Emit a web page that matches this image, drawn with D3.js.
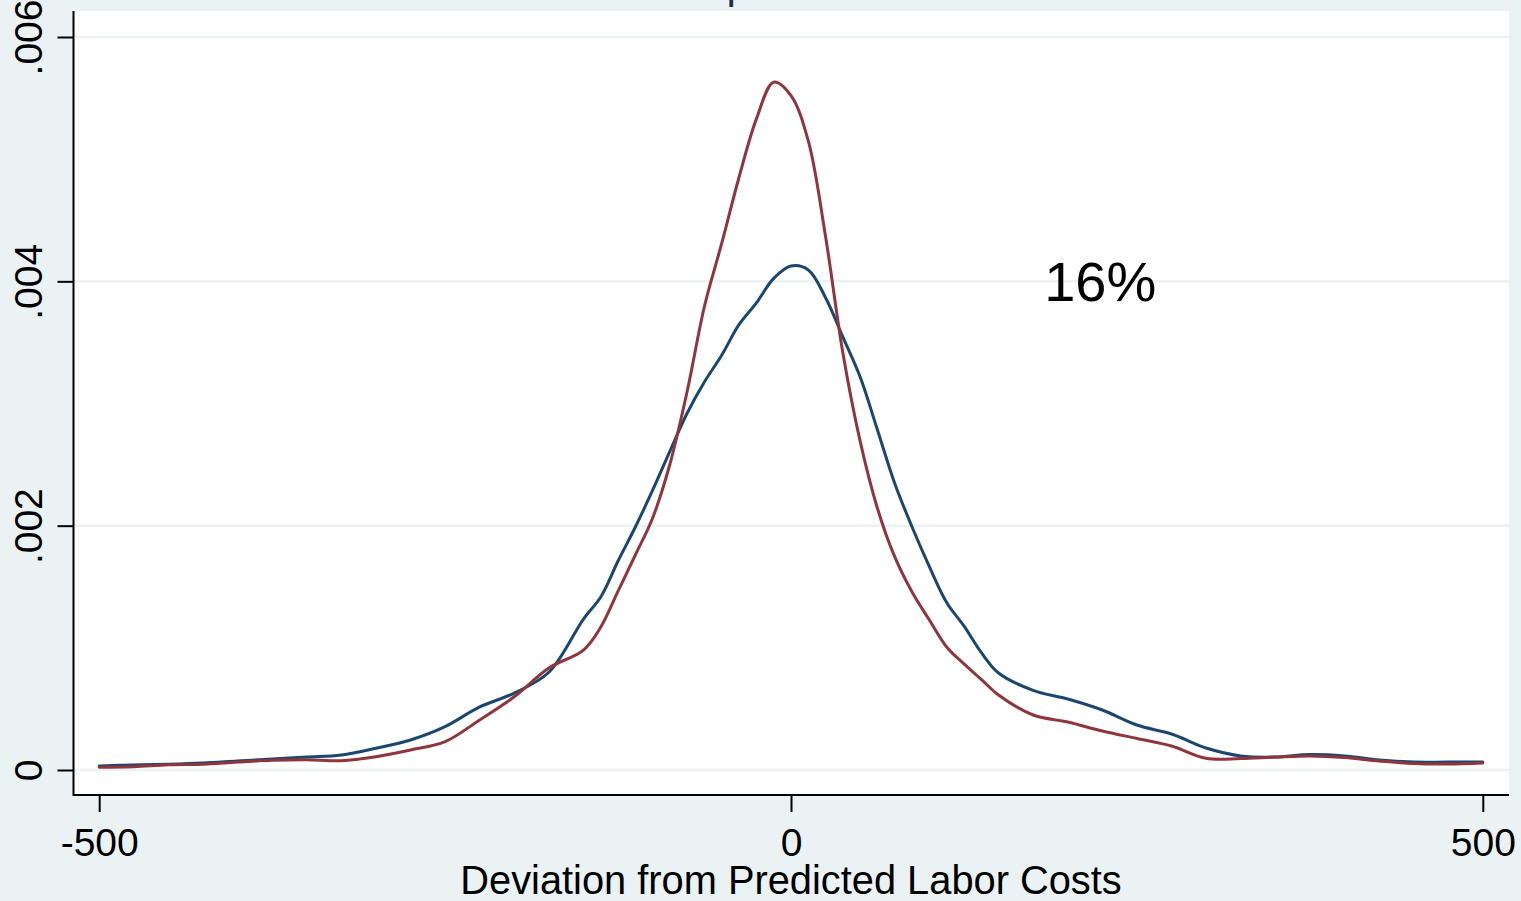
<!DOCTYPE html>
<html>
<head>
<meta charset="utf-8">
<script src="https://cdn.jsdelivr.net/npm/d3@7"></script>
<style>
  body { margin: 0; background: #eaf2f3; }
  svg { display: block; }
</style>
</head>
<body>
<div id="d1"></div>
<script>
// deviation grid (x) and kernel densities, in units of 1/1000
const xs = [-500, -475, -450, -425, -400, -375, -350, -325, -300, -275, -250, -225, -200, -175,
    -150, -137.5, -125, -112.5, -100, -87.5, -75, -62.5, -50, -37.5, -25, -12.5, 0,
    12.5, 25, 37.5, 50, 62.5, 75, 87.5, 100, 112.5, 125, 137.5, 150,
    175, 200, 225, 250, 275, 300, 325, 350, 375, 400, 425, 450, 475, 500];
const blueDensity = [0.033, 0.041, 0.047, 0.057, 0.074, 0.090, 0.106, 0.123, 0.178, 0.246, 0.355, 0.516, 0.630, 0.800,
    1.236, 1.416, 1.711, 1.989, 2.290, 2.611, 2.922, 3.178, 3.397, 3.647, 3.823, 4.024, 4.125,
    4.093, 3.866, 3.544, 3.217, 2.783, 2.345, 1.989, 1.665, 1.371, 1.179, 0.962, 0.794,
    0.652, 0.581, 0.491, 0.368, 0.295, 0.180, 0.115, 0.106, 0.127, 0.115, 0.082, 0.065, 0.065, 0.065];
const redDensity = [0.022, 0.027, 0.043, 0.047, 0.065, 0.079, 0.084, 0.076, 0.109, 0.164, 0.232, 0.410, 0.600, 0.835,
    0.982, 1.170, 1.465, 1.760, 2.063, 2.505, 3.102, 3.798, 4.314, 4.854, 5.330, 5.630, 5.520,
    5.149, 4.365, 3.413, 2.690, 2.141, 1.744, 1.457, 1.228, 1.007, 0.868, 0.742, 0.614,
    0.450, 0.393, 0.319, 0.258, 0.196, 0.096, 0.094, 0.106, 0.115, 0.102, 0.074, 0.053, 0.049, 0.057];
const xTicks = [-500, 0, 500];
const yTicks = [0, 0.002, 0.004, 0.006];
const xTitle = "Deviation from Predicted Labor Costs";
const note = { x: 183, y: 0.004, text: "16%" };

const width = 1521, height = 901;
const plot = { left: 74, right: 1509, top: 11, bottom: 795 };
const bg = "#eaf2f3";
const font = "'Liberation Sans', Arial, Helvetica, sans-serif";

const x = d3.scaleLinear()
    .domain([-500, 500])
    .range([plot.left + 25.2, plot.right - 26.2]);

const y = d3.scaleLinear()
    .domain([0, 0.006])
    .range([770, 37]);

const line = d3.line()
    .curve(d3.curveCatmullRom)
    .x(d => x(d.x))
    .y(d => y(d.y));

const blue = xs.map((v, i) => ({ x: v, y: blueDensity[i] / 1000 }));
const red = xs.map((v, i) => ({ x: v, y: redDensity[i] / 1000 }));

const svg = d3.select("#d1")
    .append("svg")
    .attr("width", width)
    .attr("height", height)
    .attr("viewBox", [0, 0, width, height]);

svg.append("rect")
    .attr("width", width)
    .attr("height", height)
    .attr("fill", bg);

// title (cut off at the top, only a descender shows)
svg.append("text")
    .attr("x", 726.5)
    .attr("y", -2)
    .attr("font-family", font)
    .attr("font-size", 42)
    .attr("fill", "#1c2b5c")
    .text("p");

svg.append("rect")
    .attr("x", plot.left)
    .attr("y", plot.top)
    .attr("width", plot.right - plot.left)
    .attr("height", plot.bottom - plot.top)
    .attr("fill", "white");

// grid lines
svg.append("g")
    .selectAll("line")
    .data(yTicks)
    .join("line")
    .attr("x1", plot.left)
    .attr("x2", plot.right)
    .attr("y1", d => y(d))
    .attr("y2", d => y(d))
    .attr("stroke", bg)
    .attr("stroke-width", 2.5);

// density lines
svg.append("path")
    .datum(blue)
    .attr("fill", "none")
    .attr("stroke", "#1a476f")
    .attr("stroke-width", 3)
    .attr("stroke-linejoin", "round")
    .attr("stroke-linecap", "round")
    .attr("d", line);

svg.append("path")
    .datum(red)
    .attr("fill", "none")
    .attr("stroke", "#90353b")
    .attr("stroke-width", 3)
    .attr("stroke-linejoin", "round")
    .attr("stroke-linecap", "round")
    .attr("d", line);

// axes
const xAxis = g => g
    .attr("transform", `translate(0,${plot.bottom})`)
    .call(d3.axisBottom(x).tickValues(xTicks).tickSize(17).tickPadding(16).tickFormat(d => String(d)))
    .call(g => g.select(".domain").remove())
    .call(g => g.selectAll(".tick line").attr("stroke", "black").attr("stroke-width", 2))
    .call(g => g.selectAll(".tick text")
        .attr("font-family", font)
        .attr("font-size", 39)
        .attr("fill", "black"))
    .call(g => g.append("line")
        .attr("x1", plot.left - 1)
        .attr("x2", plot.right)
        .attr("stroke", "black")
        .attr("stroke-width", 2));

const yAxis = g => g
    .attr("transform", `translate(${plot.left - 0.5},0)`)
    .call(d3.axisLeft(y).tickValues(yTicks).tickSize(16)
        .tickFormat(d => d === 0 ? "0" : d3.format(".3f")(d).replace(/^0/, "")))
    .call(g => g.select(".domain").remove())
    .call(g => g.selectAll(".tick line").attr("stroke", "black").attr("stroke-width", 2))
    .call(g => g.selectAll(".tick text")
        .attr("x", null)
        .attr("dy", null)
        .attr("text-anchor", "middle")
        .attr("transform", "translate(-31.5,0) rotate(-90)")
        .attr("font-family", font)
        .attr("font-size", 39)
        .attr("fill", "black"))
    .call(g => g.append("line")
        .attr("y1", plot.top)
        .attr("y2", plot.bottom + 1)
        .attr("stroke", "black")
        .attr("stroke-width", 2));

svg.append("g").call(xAxis);
svg.append("g").call(yAxis);

// axis title
svg.append("text")
    .attr("x", x(0))
    .attr("y", 894)
    .attr("text-anchor", "middle")
    .attr("font-family", font)
    .attr("font-size", 39.8)
    .attr("fill", "black")
    .text(xTitle);

// annotation
svg.append("text")
    .attr("x", x(note.x))
    .attr("y", y(note.y))
    .attr("dy", "0.36em")
    .attr("font-family", font)
    .attr("font-size", 56)
    .attr("fill", "black")
    .text(note.text);
</script>
</body>
</html>
